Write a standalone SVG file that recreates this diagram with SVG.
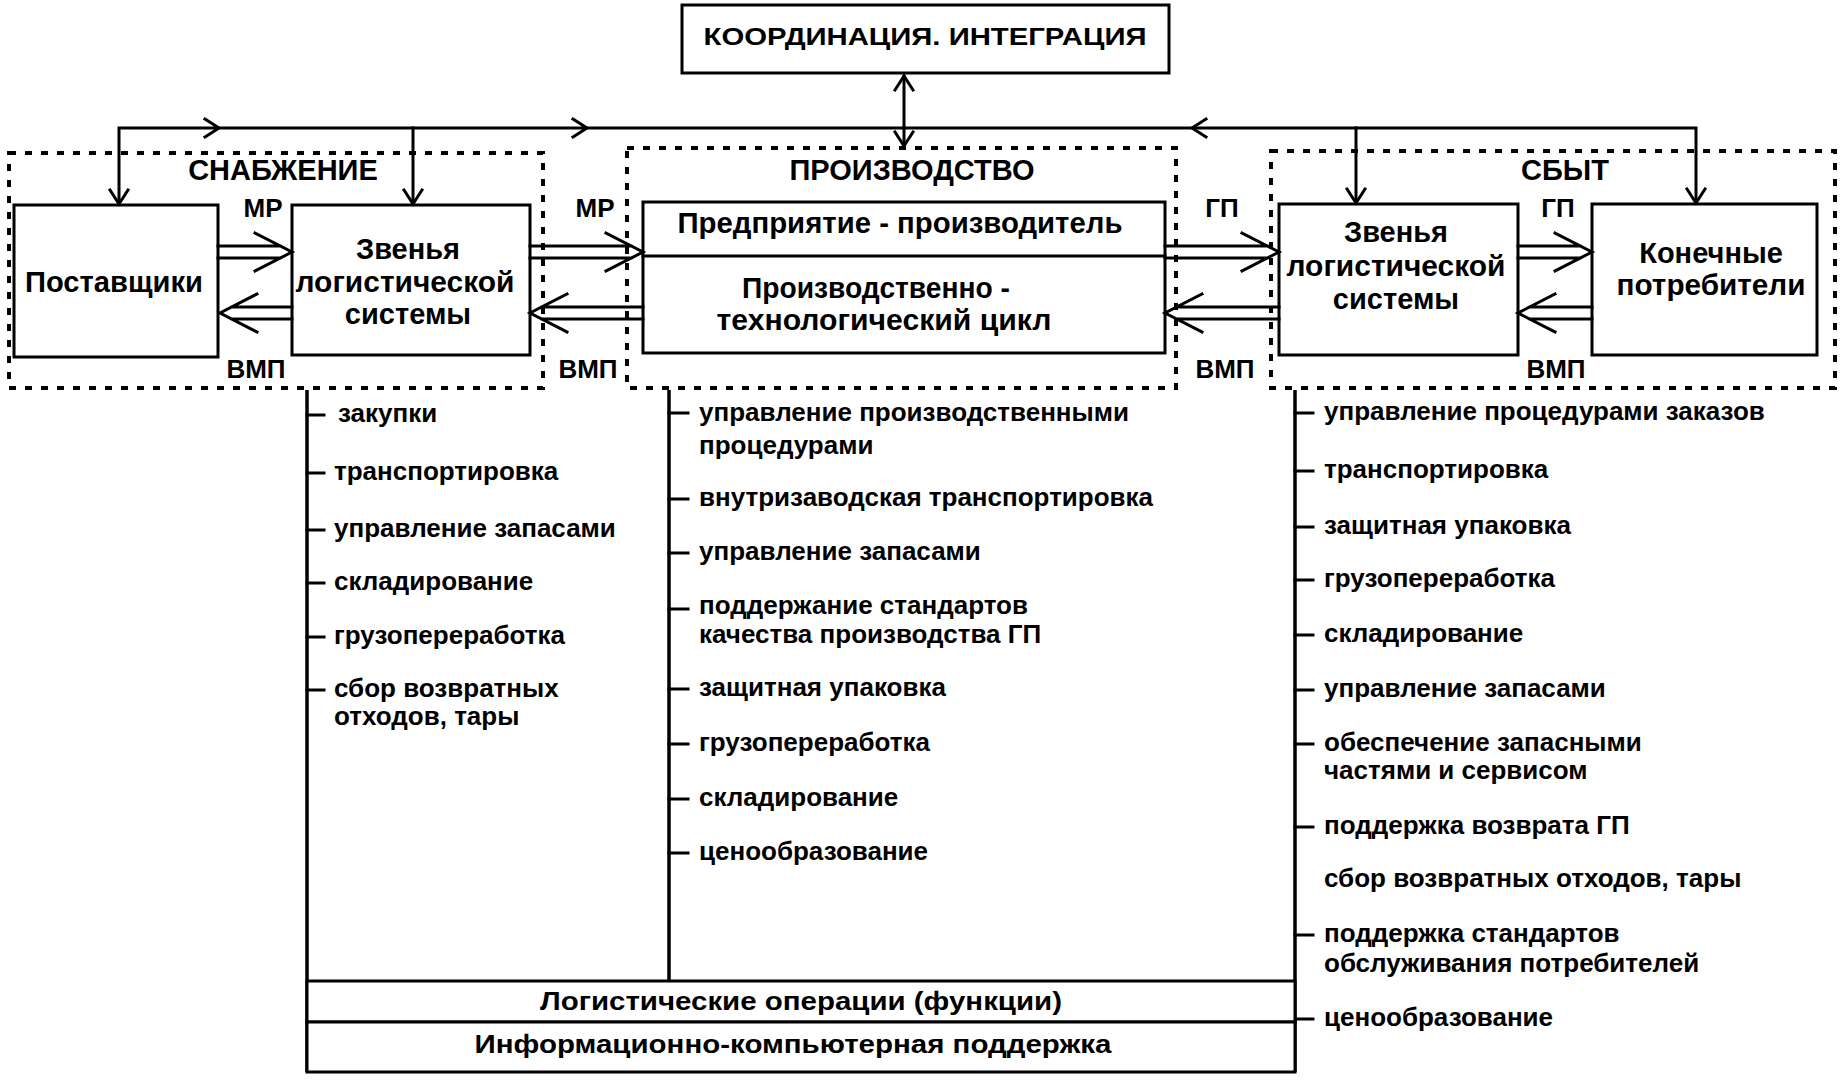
<svg xmlns="http://www.w3.org/2000/svg" width="1840" height="1080" viewBox="0 0 1840 1080">
<style>
.box{fill:#fff;stroke:#000;stroke-width:3}
.dash{fill:none;stroke:#000;stroke-width:4;stroke-dasharray:7 9}
.ln{fill:none;stroke:#000;stroke-width:3;stroke-linecap:square;stroke-linejoin:miter}
.br{fill:none;stroke:#000;stroke-width:3.5}
text{font-family:"Liberation Sans",Arial,sans-serif;font-weight:bold;fill:#000}
.t28{font-size:29px;text-anchor:middle}
.t26{font-size:29px;text-anchor:middle}
.lab{font-size:26px;text-anchor:middle}
.li{font-size:26px}
.bt{font-size:26px;text-anchor:middle}
</style>
<rect width="1840" height="1080" fill="#fff"/>

<g id="grp-supply">
<rect class="dash" x="9" y="153" width="534" height="235"/>
<text class="t28" x="283" y="180">СНАБЖЕНИЕ</text>
</g>
<g id="grp-production">
<rect class="dash" x="627" y="148" width="549" height="240"/>
<text class="t28" x="912" y="180">ПРОИЗВОДСТВО</text>
</g>
<g id="grp-sales">
<rect class="dash" x="1271" y="151" width="564" height="237"/>
<text class="t28" x="1565" y="180">СБЫТ</text>
</g>

<g id="node-coord">
<rect class="box" x="682" y="5" width="487" height="68"/>
<text x="925" y="45" style="font-size:24px;text-anchor:middle" textLength="443" lengthAdjust="spacingAndGlyphs">КООРДИНАЦИЯ. ИНТЕГРАЦИЯ</text>
</g>
<g id="node-suppliers">
<rect class="box" x="14" y="205" width="204" height="152"/>
<text class="t28" x="114" y="292" textLength="178" lengthAdjust="spacingAndGlyphs">Поставщики</text>
</g>
<g id="node-links-left">
<rect class="box" x="292" y="205" width="238" height="150"/>
<text class="t26" x="408" y="259">Звенья</text>
<text class="t26" x="405" y="292" textLength="219" lengthAdjust="spacingAndGlyphs">логистической</text>
<text class="t26" x="408" y="324">системы</text>
</g>
<g id="node-producer">
<rect class="box" x="643" y="202" width="522" height="151"/>
<line class="ln" x1="643" y1="256" x2="1165" y2="256"/>
<text class="t26" x="900" y="233" textLength="445" lengthAdjust="spacingAndGlyphs">Предприятие - производитель</text>
<text class="t26" x="876" y="298" textLength="268" lengthAdjust="spacingAndGlyphs">Производственно -</text>
<text class="t26" x="884" y="330" textLength="335" lengthAdjust="spacingAndGlyphs">технологический  цикл</text>
</g>
<g id="node-links-right">
<rect class="box" x="1279" y="204" width="239" height="151"/>
<text class="t26" x="1396" y="242">Звенья</text>
<text class="t26" x="1396" y="276" textLength="219" lengthAdjust="spacingAndGlyphs">логистической</text>
<text class="t26" x="1396" y="309">системы</text>
</g>
<g id="node-consumers">
<rect class="box" x="1592" y="204" width="225" height="151"/>
<text class="t28" x="1711" y="263">Конечные</text>
<text class="t28" x="1711" y="295" textLength="189" lengthAdjust="spacingAndGlyphs">потребители</text>
</g>

<g id="connectors">
<path class="ln" d="M119,203 V128 H1696 V202"/>
<path class="ln" d="M413,128 V203"/>
<path class="ln" d="M1356,128 V202"/>
<path class="ln" d="M904,76 V146"/>
<path class="ln" d="M205,119 L219,128 L205,137 M573,119 L587,128 L573,137 M1206,119 L1192,128 L1206,137"/>
<path class="ln" d="M110,190 L119,204 L128,190 M404,190 L413,204 L422,190 M1347,189 L1356,203 L1365,189 M1687,189 L1696,203 L1705,189"/>
<path class="ln" d="M895,90 L904,76 L913,90 M895,132 L904,146 L913,132"/>
<path class="ln" d="M218,246 H280 M218,258 H280 M255,233 L292,252 L255,271"/>
<path class="ln" d="M530,246 H631 M530,258 H631 M606,233 L643,252 L606,271"/>
<path class="ln" d="M1165,246 H1267 M1165,258 H1267 M1242,233 L1279,252 L1242,271"/>
<path class="ln" d="M1518,246 H1580 M1518,258 H1580 M1555,233 L1592,252 L1555,271"/>
<path class="ln" d="M292,307 H232 M292,319 H232 M257,294 L220,313 L257,332"/>
<path class="ln" d="M643,307 H542 M643,319 H542 M567,294 L530,313 L567,332"/>
<path class="ln" d="M1279,307 H1177 M1279,319 H1177 M1202,294 L1165,313 L1202,332"/>
<path class="ln" d="M1592,307 H1530 M1592,319 H1530 M1555,294 L1518,313 L1555,332"/>
<text class="lab" x="263" y="217">МР</text>
<text class="lab" x="595" y="217">МР</text>
<text class="lab" x="1222" y="217">ГП</text>
<text class="lab" x="1558" y="217">ГП</text>
<text class="lab" x="256" y="378">ВМП</text>
<text class="lab" x="588" y="378">ВМП</text>
<text class="lab" x="1225" y="378">ВМП</text>
<text class="lab" x="1556" y="378">ВМП</text>
</g>

<g id="functions-supply">
<path class="br" d="M307,390 V1072"/>
<path class="ln" d="M307,415 H324 M307,473 H324 M307,530 H324 M307,583 H324 M307,637 H324 M307,690 H324"/>
<text class="li" x="338" y="422">закупки</text>
<text class="li" x="334" y="480">транспортировка</text>
<text class="li" x="334" y="537">управление запасами</text>
<text class="li" x="334" y="590">складирование</text>
<text class="li" x="334" y="644">грузопереработка</text>
<text class="li" x="334" y="697">сбор возвратных</text>
<text class="li" x="334" y="725">отходов, тары</text>
</g>

<g id="functions-production">
<path class="br" d="M669,390 V981"/>
<path class="ln" d="M669,413 H688 M669,499 H688 M669,553 H688 M669,609 H688 M669,689 H688 M669,744 H688 M669,799 H688 M669,853 H688"/>
<text class="li" x="699" y="421">управление производственными</text>
<text class="li" x="699" y="454">процедурами</text>
<text class="li" x="699" y="506">внутризаводская транспортировка</text>
<text class="li" x="699" y="560">управление запасами</text>
<text class="li" x="699" y="614">поддержание стандартов</text>
<text class="li" x="699" y="643">качества производства ГП</text>
<text class="li" x="699" y="696">защитная упаковка</text>
<text class="li" x="699" y="751">грузопереработка</text>
<text class="li" x="699" y="806">складирование</text>
<text class="li" x="699" y="860">ценообразование</text>
</g>

<g id="functions-sales">
<path class="br" d="M1295,390 V1072"/>
<path class="ln" d="M1295,413 H1313 M1295,471 H1313 M1295,527 H1313 M1295,580 H1313 M1295,635 H1313 M1295,690 H1313 M1295,744 H1313 M1295,827 H1313 M1295,935 H1313 M1295,1019 H1313"/>
<text class="li" x="1324" y="420">управление процедурами заказов</text>
<text class="li" x="1324" y="478">транспортировка</text>
<text class="li" x="1324" y="534">защитная упаковка</text>
<text class="li" x="1324" y="587">грузопереработка</text>
<text class="li" x="1324" y="642">складирование</text>
<text class="li" x="1324" y="697">управление запасами</text>
<text class="li" x="1324" y="751">обеспечение запасными</text>
<text class="li" x="1324" y="779">частями и сервисом</text>
<text class="li" x="1324" y="834">поддержка возврата ГП</text>
<text class="li" x="1324" y="887">сбор возвратных отходов, тары</text>
<text class="li" x="1324" y="942">поддержка стандартов</text>
<text class="li" x="1324" y="972">обслуживания потребителей</text>
<text class="li" x="1324" y="1026">ценообразование</text>
</g>

<g id="node-logistic-ops">
<rect class="box" x="307" y="981" width="988" height="41"/>
<text class="bt" x="801" y="1010" textLength="522" lengthAdjust="spacingAndGlyphs">Логистические операции (функции)</text>
</g>
<g id="node-info-support">
<rect class="box" x="307" y="1022" width="988" height="50"/>
<text class="bt" x="793" y="1053" textLength="637" lengthAdjust="spacingAndGlyphs">Информационно-компьютерная поддержка</text>
</g>
</svg>
